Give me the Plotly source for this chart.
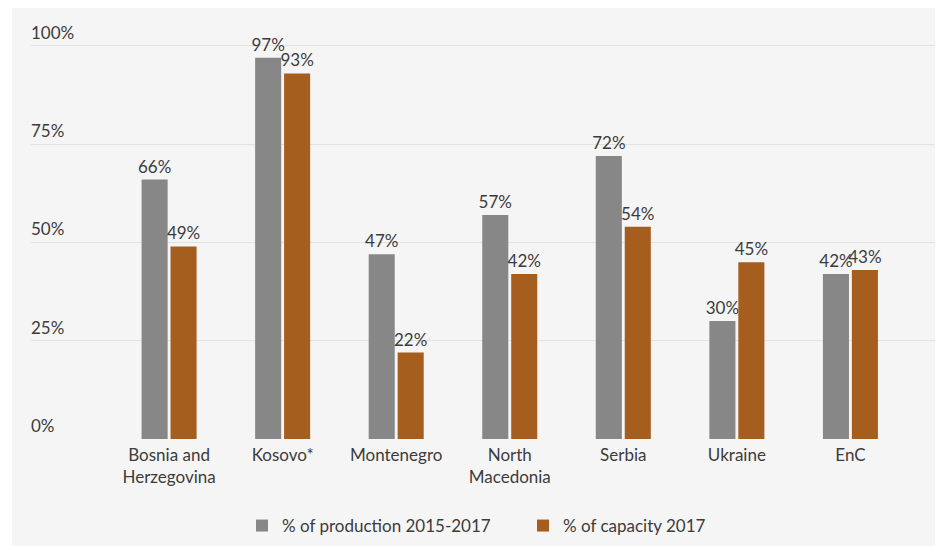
import plotly.graph_objects as go

categories = ["Bosnia and<br>Herzegovina", "Kosovo*", "Montenegro", "North<br>Macedonia", "Serbia", "Ukraine", "EnC"]
production = [66, 97, 47, 57, 72, 30, 42]
capacity = [49, 93, 22, 42, 54, 45, 43]
production_labels = ["66%", "97%", "47%", "57%", "72%", "30%", "42%"]
capacity_labels = ["49%", "93%", "22%", "42%", "54%", "45%", "43%"]
y_ticks = [0, 25, 50, 75, 100]
y_tick_labels = ["0%", "25%", "50%", "75%", "100%"]

FONT = "Lato"
FS = 17
TXT = "#3c3c3c"
GRAY = "#878787"
ORANGE = "#a65e1f"

W, H = 935, 539
L, R, T, B = 23, 4, 16, 107
PW, PH = W - L - R, H - T - B

fig = go.Figure()
fig.add_trace(go.Bar(
    x=list(range(len(categories))), y=production, name="% of production 2015-2017",
    marker=dict(color=GRAY, line=dict(width=0)),
    text=production_labels, textposition="outside", cliponaxis=False, constraintext="none",
    textfont=dict(family=FONT, size=FS, color=TXT),
))
fig.add_trace(go.Bar(
    x=list(range(len(categories))), y=capacity, name="% of capacity 2017",
    marker=dict(color=ORANGE, line=dict(width=0)),
    text=capacity_labels, textposition="outside", cliponaxis=False, constraintext="none",
    textfont=dict(family=FONT, size=FS, color=TXT),
))

fig.update_layout(
    width=W, height=H,
    margin=dict(l=L, r=R, t=T, b=B),
    paper_bgcolor="white", plot_bgcolor="rgba(0,0,0,0)",
    barmode="group", bargap=0.49, bargroupgap=0.1,
    font=dict(family=FONT, size=FS, color=TXT),
    showlegend=True,
    legend=dict(orientation="h", x=(234 - L) / PW, xanchor="left",
                y=-(518 - (H - B)) / PH, yanchor="middle",
                entrywidth=236, entrywidthmode="pixels",
                font=dict(family=FONT, size=FS, color=TXT),
                bgcolor="rgba(0,0,0,0)", traceorder="normal"),
)
fig.update_xaxes(
    range=[-1.216, 6.78], tickmode="array", tickvals=list(range(len(categories))),
    ticktext=categories, showgrid=False, zeroline=False, showline=False,
    ticks="", ticklabelstandoff=4, tickfont=dict(family=FONT, size=FS, color=TXT),
)
fig.update_yaxes(
    range=[0, 100 + 22 / 3.94], tickmode="array", tickvals=y_ticks,
    showticklabels=False, showgrid=True, gridcolor="#e2e2e2", gridwidth=1,
    zeroline=False, showline=False, ticks="",
)
for v, lab in zip(y_ticks, y_tick_labels):
    fig.add_annotation(x=0, xref="paper", y=v, yref="y", text=lab, showarrow=False,
                       xanchor="left", yanchor="bottom", xshift=-2, yshift=1,
                       font=dict(family=FONT, size=FS, color=TXT))
# gray panel background
fig.add_shape(type="rect", xref="paper", yref="paper",
              x0=(4 - L) / PW, x1=(W - L) / PW, y0=-B / PH, y1=1 + T / PH,
              fillcolor="#f5f5f5", line=dict(width=0), layer="below")

fig.write_html("out.html")
